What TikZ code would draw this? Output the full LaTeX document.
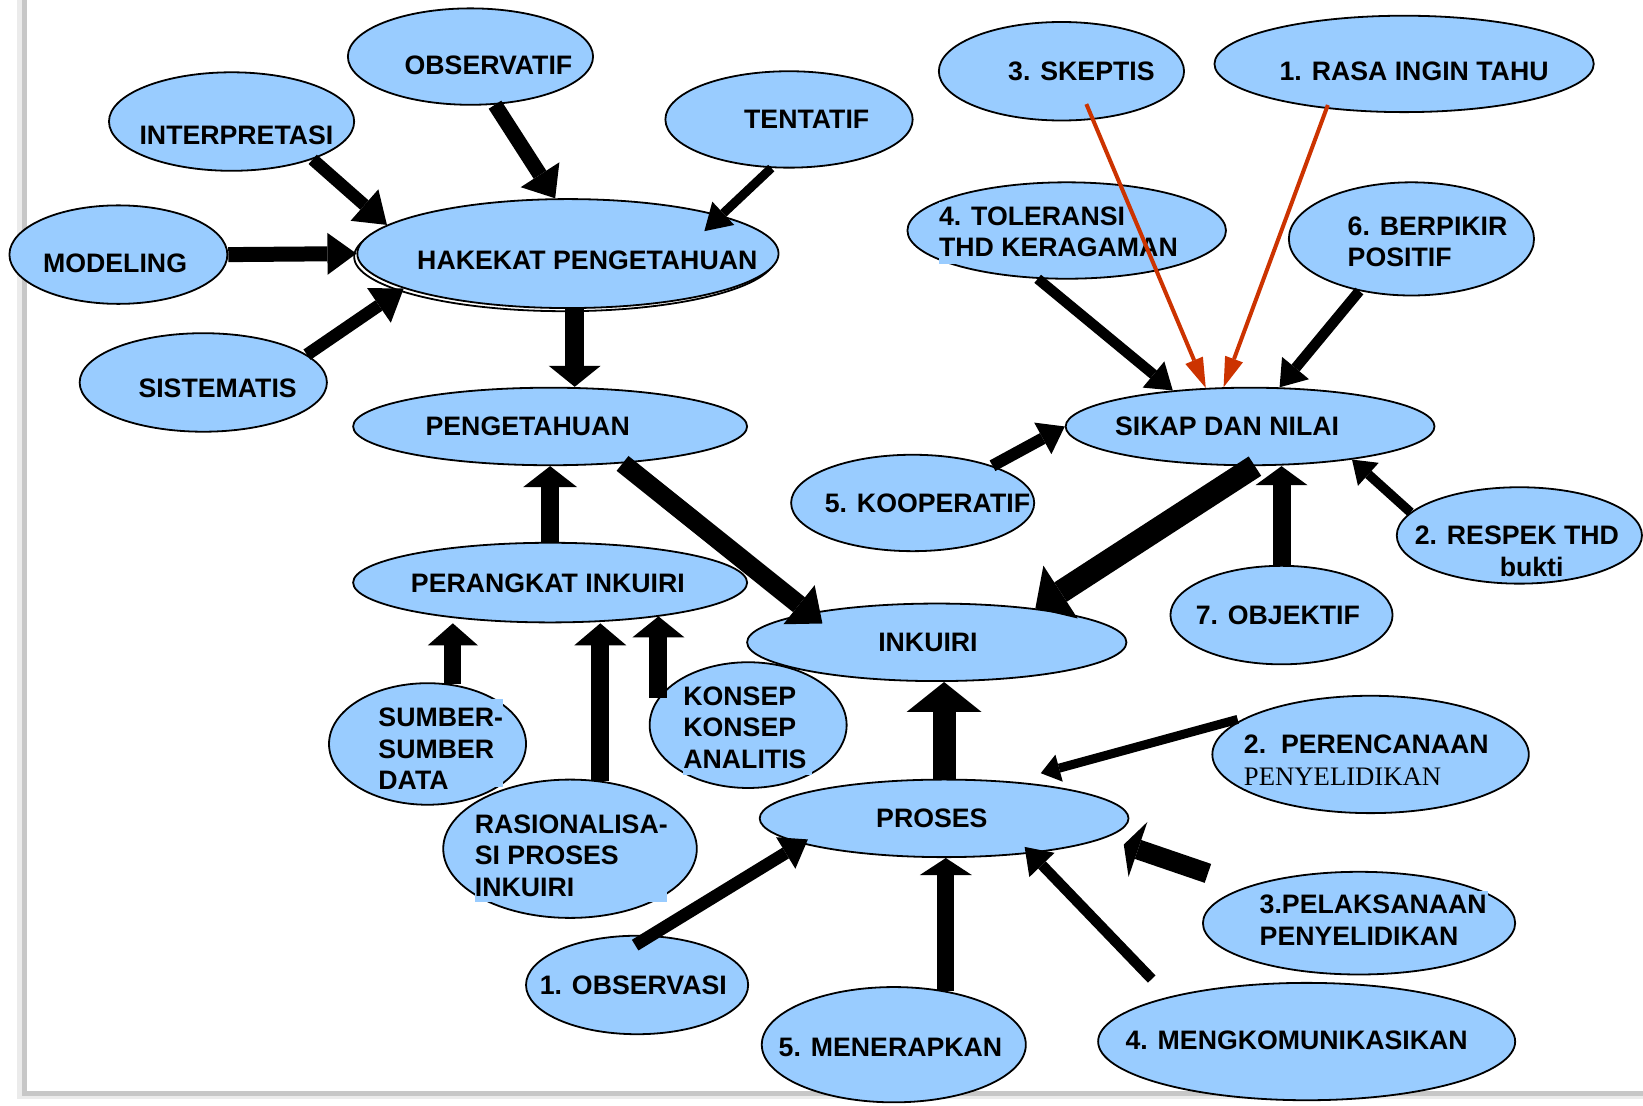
\documentclass[tikz,border=0pt]{standalone}
\usepackage{fontspec}
\setmainfont{Liberation Sans}
\newfontfamily\serifx{Liberation Serif}
\usetikzlibrary{arrows.meta,shapes.geometric,calc}
\definecolor{elfill}{RGB}{153,204,255}
\definecolor{redar}{RGB}{204,51,0}
\begin{document}
\begin{tikzpicture}[x=1.048pt,y=-1.048pt,
 el/.style 2 args={ellipse, draw=black, line width=1.8pt, fill=elfill, inner sep=0pt,
   minimum width=#1*2.096pt, minimum height=#2*2.096pt},
 tx/.style={anchor=west, inner sep=0pt, font=\fontsize{26.7}{31.5}\selectfont\bfseries, align=left},
 ar/.style n args={3}{draw=black, line width=#1pt, -{Triangle[length=#2pt,width=#3pt,line width=0pt]}},
 redarrow/.style={draw=redar, line width=4pt, -{Triangle[length=30pt,width=19pt,line width=0pt]}},
 ]
\useasboundingbox (0,0) rectangle (1568,1055);
\fill[white] (0,0) rectangle (1568,1055);
% page frame shadow
\fill[black!8] (16,0) rectangle (21,1049);
\fill[black!22] (21,0) rectangle (26,1046);
\fill[black!22] (21,1041) rectangle (1568,1046);
\fill[black!8] (21,1046) rectangle (1568,1049);

% ---- nodes ----
\node[el={117}{46}] (obsf) at (449,54) {};
\node[tx] (tobsf) at (386,62) {OBSERVATIF};
\node[el={117}{47}] (intp) at (221,116) {};
\node[tx] (tintp) at (133,129) {INTERPRETASI};
\node[el={118}{46}] (tent) at (753,114) {};
\node[tx] (ttent) at (710,114) {TENTATIF};
\node[el={104}{47}] (modl) at (113,243) {};
\node[tx] (tmodl) at (41,251) {MODELING};
\node[el={201}{52}, fill=none] (hakb) at (539,245) {};
\node[el={201}{52}] (hak) at (542,242) {};
\node[tx] (thak) at (398,248) {HAKEKAT PENGETAHUAN};
\node[el={118}{47}] (sist) at (194,365) {};
\node[tx] (tsist) at (132,371) {SISTEMATIS};
\node[el={188}{37}] (peng) at (525,407) {};
\node[tx] (tpeng) at (406,407) {PENGETAHUAN};
\node[el={188}{38}] (pera) at (525,556) {};
\node[tx] (tpera) at (392,557) {PERANGKAT INKUIRI};
\node[el={94}{58}] (sumb) at (408,710) {};
\fill[elfill] (361,667) rectangle (480,751);
\node[tx] (tsumb) at (361,714.5) {SUMBER-\\SUMBER\\DATA};
\node[el={121}{66}] (rasi) at (544,810) {};
\fill[elfill] (453,770) rectangle (637,861);
\node[tx] (trasi) at (453,816.5) {RASIONALISA-\\SI PROSES\\INKUIRI};
\node[el={181}{37}] (inku) at (894,613) {};
\node[tx] (tinku) at (838,613) {INKUIRI};
\node[el={94}{60}] (kons) at (714,692) {};
\fill[elfill] (652,650) rectangle (775,740);
\node[tx] (tkons) at (652,694.5) {KONSEP\\KONSEP\\ANALITIS};
\node[el={176}{37}] (pros) at (901,781) {};
\node[tx] (tpros) at (836,781) {PROSES};
\node[el={106}{47}] (obsv) at (608,940) {};
\node[tx] (tobsv) at (515,940) {1. OBSERVASI};
\node[el={126}{55}] (mene) at (853,997) {};
\node[tx] (tmene) at (743,1000) {5. MENERAPKAN};
\node[el={199}{56}] (meng) at (1247,994) {};
\node[tx] (tmeng) at (1074,993) {4. MENGKOMUNIKASIKAN};
\node[el={149}{49}] (pela) at (1297,881) {};
\fill[elfill] (1202,850) rectangle (1420,906);
\node[tx] (tpela) at (1202,878) {3.PELAKSANAAN\\PENYELIDIKAN};
\node[el={151}{56}] (pere) at (1308,720) {};
\fill[elfill] (1187,700) rectangle (1420,752);
\node[tx] (tpere) at (1187,725.5) {2.\ \ PERENCANAAN\\{\serifx\mdseries PENYELIDIKAN}};
\node[el={106}{47}] (objk) at (1223,587) {};
\node[tx] (tobjk) at (1141,587) {7. OBJEKTIF};
\node[el={117}{46}] (resp) at (1450,511) {};
\node[tx] (tresp) at (1350,526) {2. RESPEK THD\\\hspace*{85pt}bukti};
\node[el={176}{37}] (sikp) at (1193,407) {};
\node[tx] (tsikp) at (1064,407) {SIKAP DAN NILAI};
\node[el={116}{46}] (koop) at (871,480) {};
\node[tx] (tkoop) at (787,480) {5. KOOPERATIF};
\node[el={152}{46}] (tole) at (1018,220) {};
\fill[elfill] (896,193) rectangle (1125,252);
\node[tx] (ttole) at (896,221) {4. TOLERANSI\\THD KERAGAMAN};
\node[el={117}{54}] (berp) at (1347,228) {};
\node[tx] (tberp) at (1286,231) {6. BERPIKIR\\POSITIF};
\node[el={117}{47}] (skep) at (1013,68) {};
\node[tx] (tskep) at (962,68) {3. SKEPTIS};
\node[el={181}{46}] (rasa) at (1340,61) {};
\node[tx] (trasa) at (1221,68) {1. RASA INGIN TAHU};

% ---- arrows ----
\draw[ar={15}{28}{46}] (obsf.-63.4) -- (hak.103);
\draw[ar={12.5}{30}{42}] (intp.-25.3) -- (hak.171);
\draw[ar={9}{26}{32}, shorten >=-23pt] (tent.-110.3) -- (hak.14.6);
\draw[ar={15}{29}{42}] (modl.east) -- (hak.west);
\draw[ar={12.5}{30}{42}] (sist.15.4) -- (hak.-168);
\draw[ar={19}{21}{52}] (hak.-83.4) -- (hak.-83.4 |- peng.north);
\draw[ar={18}{21}{54}] (pera.north) -- (peng.south);
\draw[ar={19}{30}{50}, shorten >=-17pt] (peng.-27.5) -- (inku.167.4);
\draw[ar={17}{22}{50}] (sumb.67.7) -- (sumb.67.7 |- pera.south);
\draw[ar={18}{22}{52}] (rasi.66.4) -- (rasi.66.4 |- pera.south);
\draw[ar={18}{21}{52}] (kons.163.2) -- (kons.163.2 |- pera.-17);
\draw[ar={23}{30}{63}] (sikp.-83.8) -- (inku.19);
\draw[ar={12}{25}{36}] (koop.25.6) -- (sikp.180);
\draw[ar={10.5}{25}{34}] (tole.-121.8) -- (sikp.155);
\draw[redarrow, shorten <=-17pt] (skep.-57.2) -- (sikp.139.3);
\draw[redarrow, shorten <=-4pt] (rasa.-150.7) -- (sikp.124.1);
\draw[ar={10.5}{25}{35}] (berp.-135.7) -- (sikp.53.6);
\draw[ar={9.5}{22}{31}] (resp.168.4) -- (sikp.-18.1);
\draw[ar={18}{19}{52}] (objk.north) -- (objk.north |- sikp.south);
\draw[ar={23}{30}{75}] (pros.north) -- (pros.north |- inku.south);
\draw[ar={9}{19}{28}, shorten <=10pt, shorten >=31pt] (pere.163.9) -- (pros.29.4);
\draw[ar={20}{15}{58}, shorten <=41pt, shorten >=20pt] (pela.162.4) -- (pros.-7.9);
\draw[ar={10.5}{25}{35}, shorten <=24.5pt, shorten >=-9pt] (meng.162.1) -- (pros.-22.4);
\draw[ar={17}{17}{52}] (mene.46.7) -- (mene.46.7 |- pros.south);
\draw[ar={12.5}{26}{37}, shorten <=-19pt, shorten >=-8pt] (obsv.74.1) -- (pros.-170.5);
\end{tikzpicture}
\end{document}
